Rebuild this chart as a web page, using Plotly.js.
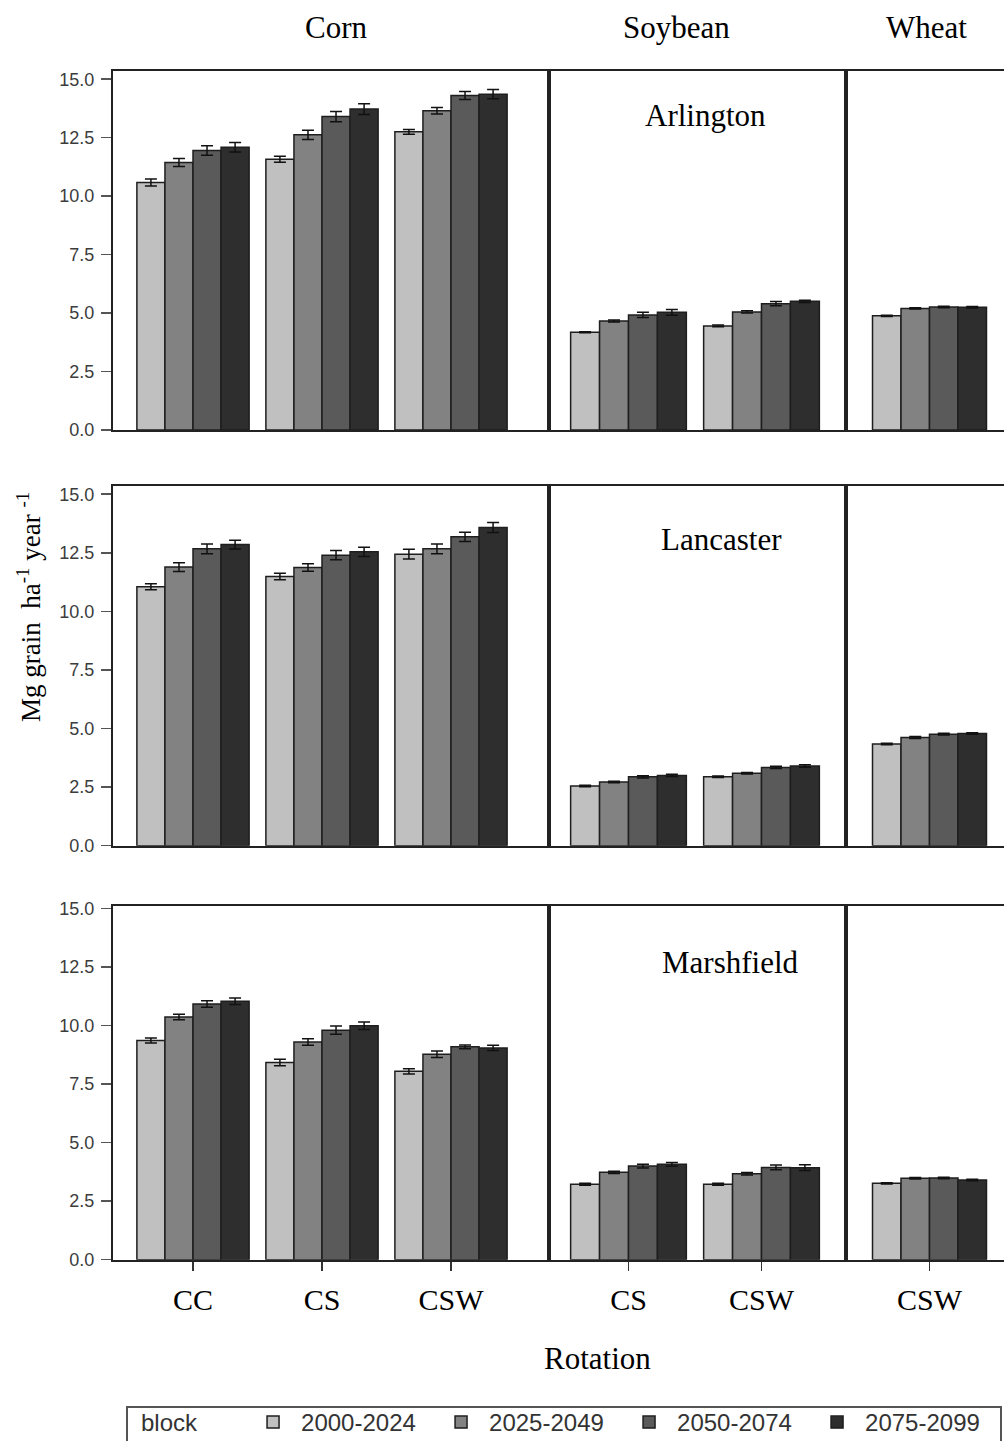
<!DOCTYPE html>
<html>
<head>
<meta charset="utf-8">
<script src="https://cdn.plot.ly/plotly-3.0.1.min.js"></script>
<style>html,body{margin:0;padding:0;background:#fff;}#chart{width:1004px;height:1441px;}</style>
</head>
<body>
<div id="chart"></div>
<script>
// ---------- DATA ----------
const periods = ['2000-2024', '2025-2049', '2050-2074', '2075-2099'];
const crops = ['Corn', 'Soybean', 'Wheat'];
const sites = ['Arlington', 'Lancaster', 'Marshfield'];
const cornRotations = ['CC', 'CS', 'CSW'];
const soyRotations = ['CS', 'CSW'];
const wheatRotations = ['CSW'];
const yTickVals = [0, 2.5, 5, 7.5, 10, 12.5, 15];
const yTickText = ['0.0', '2.5', '5.0', '7.5', '10.0', '12.5', '15.0'];

// each row = one period; columns follow the rotation list of that crop
const arlingtonCorn = [[10.58, 11.58, 12.75], [11.44, 12.62, 13.65], [11.95, 13.40, 14.30], [12.09, 13.72, 14.36]];
const arlingtonCornErr = [[0.15, 0.13, 0.10], [0.17, 0.20, 0.14], [0.20, 0.22, 0.17], [0.20, 0.23, 0.20]];
const arlingtonSoy = [[4.18, 4.45], [4.66, 5.05], [4.92, 5.40], [5.03, 5.50]];
const arlingtonSoyErr = [[0.02, 0.04], [0.04, 0.05], [0.11, 0.09], [0.12, 0.05]];
const arlingtonWheat = [[4.88], [5.20], [5.26], [5.25]];
const arlingtonWheatErr = [[0.03], [0.03], [0.03], [0.03]];

const lancasterCorn = [[11.05, 11.49, 12.44], [11.89, 11.87, 12.67], [12.67, 12.40, 13.18], [12.85, 12.54, 13.58]];
const lancasterCornErr = [[0.13, 0.14, 0.21], [0.19, 0.16, 0.21], [0.21, 0.20, 0.20], [0.19, 0.20, 0.21]];
const lancasterSoy = [[2.55, 2.94], [2.72, 3.09], [2.94, 3.34], [3.00, 3.40]];
const lancasterSoyErr = [[0.03, 0.03], [0.03, 0.03], [0.05, 0.05], [0.05, 0.05]];
const lancasterWheat = [[4.34], [4.62], [4.76], [4.79]];
const lancasterWheatErr = [[0.03], [0.04], [0.04], [0.03]];

const marshfieldCorn = [[9.36, 8.42, 8.04], [10.36, 9.29, 8.77], [10.92, 9.80, 9.09], [11.03, 9.99, 9.04]];
const marshfieldCornErr = [[0.11, 0.14, 0.11], [0.12, 0.14, 0.14], [0.14, 0.18, 0.08], [0.14, 0.16, 0.11]];
const marshfieldSoy = [[3.22, 3.22], [3.73, 3.67], [4.00, 3.94], [4.07, 3.93]];
const marshfieldSoyErr = [[0.04, 0.04], [0.05, 0.05], [0.08, 0.10], [0.08, 0.12]];
const marshfieldWheat = [[3.26], [3.48], [3.49], [3.40]];
const marshfieldWheatErr = [[0.03], [0.03], [0.03], [0.03]];

// ---------- STYLE / LAYOUT ----------
const W = 1004, H = 1441;
const barColors = ['#c0c0c0', '#828282', '#5a5a5a', '#2e2e2e'];
const serif = 'Liberation Serif, Times New Roman, serif';
const sans = 'Liberation Sans, Arial, sans-serif';

const rotationsByCol = [cornRotations, soyRotations, wheatRotations];
const valuesGrid = [
  [arlingtonCorn, arlingtonSoy, arlingtonWheat],
  [lancasterCorn, lancasterSoy, lancasterWheat],
  [marshfieldCorn, marshfieldSoy, marshfieldWheat]
];
const errGrid = [
  [arlingtonCornErr, arlingtonSoyErr, arlingtonWheatErr],
  [lancasterCornErr, lancasterSoyErr, lancasterWheatErr],
  [marshfieldCornErr, marshfieldSoyErr, marshfieldWheatErr]
];

const colPx = [[113, 549], [549, 846], [846, 1004]];
const colRanges = [[-0.6202, 2.7597], [-0.5977, 1.6353], [-0.6374, 0.5687]];
const rowPx = [[71, 430], [486, 845.7], [906, 1259.7]];
const rowTop = [15.35, 15.35, 15.10];

const traces = [];
const layout = {
  width: W, height: H,
  margin: {l: 0, r: 0, t: 0, b: 0, autoexpand: false},
  paper_bgcolor: '#fff', plot_bgcolor: '#fff',
  barmode: 'group', bargap: 0.13, bargroupgap: 0,
  showlegend: true,
  legend: {
    orientation: 'h', x: 139 / W, xanchor: 'left', y: 1 - 1400 / H, yanchor: 'top',
    borderwidth: 0, bgcolor: 'rgba(0,0,0,0)',
    font: {family: sans, size: 24, color: '#333'},
    title: {text: 'block\u00a0\u00a0\u00a0\u00a0\u00a0\u00a0', font: {family: sans, size: 24, color: '#333'}},
    itemwidth: 46, entrywidth: 127, traceorder: 'normal'
  },
  annotations: [],
  shapes: [{
    type: 'rect', xref: 'paper', yref: 'paper', layer: 'below',
    x0: 127 / W, x1: 1001 / W, y0: 1 - 1450 / H, y1: 1 - 1407 / H,
    line: {color: '#555', width: 2}, fillcolor: 'rgba(0,0,0,0)'
  }]
};

for (let r = 0; r < 3; r++) {
  for (let c = 0; c < 3; c++) {
    const n = r * 3 + c + 1;
    const xName = n === 1 ? 'xaxis' : 'xaxis' + n;
    const yName = n === 1 ? 'yaxis' : 'yaxis' + n;
    const xRef = n === 1 ? 'x' : 'x' + n;
    const yRef = n === 1 ? 'y' : 'y' + n;
    const bottom = r === 2;
    layout[xName] = {
      domain: [colPx[c][0] / W, colPx[c][1] / W],
      anchor: yRef, type: 'category',
      categoryorder: 'array', categoryarray: rotationsByCol[c],
      range: colRanges[c], fixedrange: true,
      showline: true, mirror: true, linecolor: '#222', linewidth: 2,
      showgrid: false, zeroline: false,
      ticks: bottom ? 'outside' : '', ticklen: 9, tickcolor: '#333', tickwidth: 1.5,
      showticklabels: bottom, ticklabelstandoff: 3,
      tickfont: {family: serif, size: 30, color: '#000'}
    };
    layout[yName] = {
      domain: [1 - rowPx[r][1] / H, 1 - rowPx[r][0] / H],
      anchor: xRef, range: [0, rowTop[r]], fixedrange: true,
      showline: true, mirror: c < 2, linecolor: '#222', linewidth: 2,
      showgrid: false, zeroline: false,
      tickmode: 'array', tickvals: yTickVals, ticktext: yTickText,
      ticks: c === 0 ? 'outside' : '', ticklen: 10, tickcolor: '#555', tickwidth: 1.5,
      showticklabels: c === 0, ticklabelstandoff: 3,
      tickfont: {family: sans, size: 18, color: '#3c3c3c'}
    };
    if (r === 2) layout[xName].linewidth = 2;
    for (let p = 0; p < periods.length; p++) {
      traces.push({
        type: 'bar',
        name: periods[p],
        legendgroup: periods[p],
        showlegend: r === 0 && c === 0,
        x: rotationsByCol[c],
        y: valuesGrid[r][c][p],
        xaxis: xRef, yaxis: yRef,
        marker: {color: barColors[p], line: {color: '#1e1e1e', width: 1.5}},
        error_y: {type: 'data', array: errGrid[r][c][p], visible: true, color: '#111', thickness: 1.5, width: 6},
        hoverinfo: 'skip'
      });
    }
  }
}

// column headers
const headerX = [336, 676, 926];
crops.forEach((t, i) => layout.annotations.push({
  text: t, xref: 'paper', yref: 'paper', x: headerX[i] / W, y: 1 - 28 / H,
  xanchor: 'center', yanchor: 'middle', showarrow: false,
  font: {family: serif, size: 31, color: '#000'}
}));
// site labels
const siteX = [705, 721, 730];
const siteY = [116, 539, 963];
sites.forEach((t, i) => layout.annotations.push({
  text: t, xref: 'paper', yref: 'paper', x: siteX[i] / W, y: 1 - siteY[i] / H,
  xanchor: 'center', yanchor: 'middle', showarrow: false,
  font: {family: serif, size: 31, color: '#000'}
}));
// axis titles
layout.annotations.push({
  text: 'Rotation', xref: 'paper', yref: 'paper', x: 597 / W, y: 1 - 1358 / H,
  xanchor: 'center', yanchor: 'middle', showarrow: false,
  font: {family: serif, size: 31, color: '#000'}
});
layout.annotations.push({
  text: 'Mg grain\u00a0 ha<sup>-1</sup> year <sup>-1</sup>', xref: 'paper', yref: 'paper',
  x: 29 / W, y: 1 - 607 / H, textangle: -90,
  xanchor: 'center', yanchor: 'middle', showarrow: false,
  font: {family: serif, size: 27, color: '#000'}
});

Plotly.newPlot('chart', traces, layout, {displayModeBar: false, staticPlot: true});
</script>
</body>
</html>
